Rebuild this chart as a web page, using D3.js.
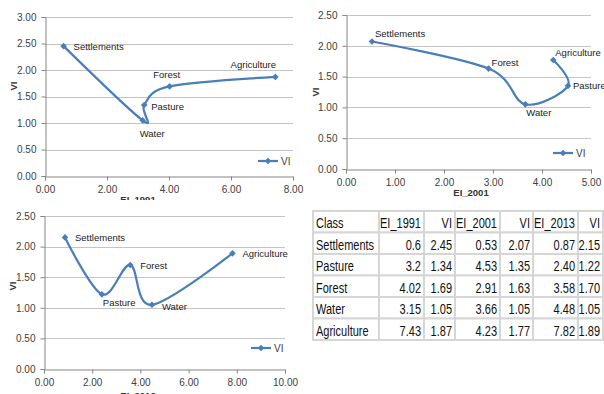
<!DOCTYPE html>
<html><head><meta charset="utf-8">
<script src="https://cdn.jsdelivr.net/npm/d3@7"></script>
<style>html,body{margin:0;padding:0;background:#fff;}svg{display:block;}</style>
</head><body><svg id="c" width="604" height="394"></svg>
<script>
// ---- data ----
const classes = ["Settlements","Pasture","Forest","Water","Agriculture"];
const ei1991 = [0.6, 3.2, 4.02, 3.15, 7.43];
const vi1991 = [2.45, 1.34, 1.69, 1.05, 1.87];
const ei2001 = [0.53, 4.53, 2.91, 3.66, 4.23];
const vi2001 = [2.07, 1.35, 1.63, 1.05, 1.77];
const ei2013 = [0.87, 2.40, 3.58, 4.48, 7.82];
const vi2013 = [2.15, 1.22, 1.70, 1.05, 1.89];
// order in which the points are joined in each chart
const order1991 = ["Settlements","Water","Pasture","Forest","Agriculture"];
const order2001 = ["Settlements","Forest","Water","Pasture","Agriculture"];
const order2013 = ["Settlements","Pasture","Forest","Water","Agriculture"];
const yTicks1991 = [0,0.5,1,1.5,2,2.5,3];
const yTicks2001 = [0,0.5,1,1.5,2,2.5];
const yTicks2013 = [0,0.5,1,1.5,2,2.5];
const xTicks1991 = [0,2,4,6,8];
const xTicks2001 = [0,1,2,3,4,5];
const xTicks2013 = [0,2,4,6,8,10];
const tableHeader = ["Class","EI_1991","VI","EI_2001","VI","EI_2013","VI"];
const tableEI1991 = ["0.6","3.2","4.02","3.15","7.43"];
const tableVI1991 = ["2.45","1.34","1.69","1.05","1.87"];
const tableEI2001 = ["0.53","4.53","2.91","3.66","4.23"];
const tableVI2001 = ["2.07","1.35","1.63","1.05","1.77"];
const tableEI2013 = ["0.87","2.40","3.58","4.48","7.82"];
const tableVI2013 = ["2.15","1.22","1.70","1.05","1.89"];

const svg = d3.select("#c");
const FONT = "'Liberation Sans', Arial, sans-serif";
const BLUE = "#4a7ebb";

function chart(cfg){
  const g = svg.append("g");
  if (cfg.bg) g.append("rect").attr("x",cfg.bg[0]).attr("y",cfg.bg[1]).attr("width",cfg.bg[2]).attr("height",cfg.bg[3]).attr("fill","#fff");
  const x = d3.scaleLinear().domain(cfg.xd).range([cfg.x0,cfg.x1]);
  const y = d3.scaleLinear().domain(cfg.yd).range([cfg.y0,cfg.y1]);
  g.selectAll(".gl").data(cfg.yt.filter(d=>d>0)).enter().append("line")
    .attr("x1",cfg.x0).attr("x2",cfg.x1).attr("y1",d=>Math.round(y(d))+0.5).attr("y2",d=>Math.round(y(d))+0.5)
    .attr("stroke","#c4c4c4").attr("stroke-width",1);
  const ya = g.append("g").attr("transform",`translate(${cfg.x0+0.5},0)`)
    .call(d3.axisLeft(y).tickValues(cfg.yt).tickFormat(d3.format(".2f")).tickSize(4).tickPadding(5));
  const xa = g.append("g").attr("transform",`translate(0,${Math.round(cfg.y0)+0.5})`)
    .call(d3.axisBottom(x).tickValues(cfg.xt).tickFormat(d3.format(".2f")).tickSize(4).tickPadding(5));
  [ya,xa].forEach(a=>{
    a.select(".domain").attr("stroke","#868686");
    a.selectAll(".tick line").attr("stroke","#868686");
    a.selectAll("text").attr("font-family",FONT).attr("font-size",10).attr("fill","#404040");
  });
  g.append("text").attr("transform",`translate(${cfg.ytx},${cfg.yty}) rotate(-90)`).attr("text-anchor","middle")
    .attr("font-family",FONT).attr("font-size",9.5).attr("font-weight","bold").attr("fill","#333").text("VI");
  g.append("text").attr("x",cfg.xtx).attr("y",cfg.xty).attr("text-anchor","middle")
    .attr("font-family",FONT).attr("font-size",9.5).attr("font-weight","bold").attr("fill","#333").text(cfg.xtitle);
  const pts = cfg.order.map(c=>{const i=classes.indexOf(c);return {c, ex:cfg.ei[i], v:cfg.vi[i]};});
  const line = d3.line().x(d=>x(d.ex)).y(d=>y(d.v)).curve(d3.curveCardinal.tension(0));
  g.append("path").attr("d",line(pts)).attr("fill","none").attr("stroke",BLUE).attr("stroke-width",2.2);
  const sym = d3.symbol().type(d3.symbolSquare).size(22);
  g.selectAll(".m").data(pts).enter().append("path").attr("d",sym)
    .attr("transform",d=>`translate(${x(d.ex)},${y(d.v)}) rotate(45)`).attr("fill",BLUE);
  g.selectAll(".lb").data(pts).enter().append("text")
    .attr("x",d=>x(d.ex)+cfg.lab[d.c][0]).attr("y",d=>y(d.v)+cfg.lab[d.c][1])
    .attr("text-anchor",d=>cfg.lab[d.c][2]||"start")
    .attr("font-family",FONT).attr("font-size",9.5).attr("fill","#222").text(d=>d.c);
  g.append("line").attr("x1",cfg.lg[0]).attr("x2",cfg.lg[0]+20).attr("y1",cfg.lg[1]).attr("y2",cfg.lg[1]).attr("stroke",BLUE).attr("stroke-width",2.2);
  g.append("path").attr("d",sym).attr("transform",`translate(${cfg.lg[0]+10},${cfg.lg[1]}) rotate(45)`).attr("fill",BLUE);
  g.append("text").attr("x",cfg.lg[0]+23).attr("y",cfg.lg[1]+3.5).attr("font-family",FONT).attr("font-size",10).attr("fill","#404040").text("VI");
}

chart({xd:[0,8],yd:[0,3],x0:45,x1:293,y0:176,y1:17,xt:xTicks1991,yt:yTicks1991,ei:ei1991,vi:vi1991,order:order1991,
  ytx:17,yty:86,xtx:138,xty:203,xtitle:"EI_1991",lg:[258,161],
  lab:{Settlements:[10,4],Water:[-3,17],Pasture:[7,5],Forest:[-3,-8,"middle"],Agriculture:[-22,-9,"middle"]}});
chart({xd:[0,5],yd:[0,2.5],x0:346,x1:591,y0:169,y1:15,xt:xTicks2001,yt:yTicks2001,ei:ei2001,vi:vi2001,order:order2001,
  ytx:319,yty:92,xtx:471,xty:196,xtitle:"EI_2001",lg:[553,153],
  lab:{Settlements:[3,-4],Forest:[3,-3],Water:[1,12],Agriculture:[2,-4],Pasture:[5,3]}});
chart({bg:[0,200,300,194],xd:[0,10],yd:[0,2.5],x0:44,x1:285,y0:369,y1:216,xt:xTicks2013,yt:yTicks2013,ei:ei2013,vi:vi2013,order:order2013,
  ytx:16,yty:286,xtx:138,xty:399,xtitle:"EI_2013",lg:[251,348],
  lab:{Settlements:[10,4],Pasture:[1,12],Forest:[10,4],Water:[10,5],Agriculture:[10,4]}});

// ---- table ----
const colEdges = [313,379,424,455,500,533,578,603];
const rowEdges = [211,232.5,254,275.5,297,318.5,340];
const tg = svg.append("g");
const rows = [tableHeader].concat(classes.map((c,i)=>[c,tableEI1991[i],tableVI1991[i],tableEI2001[i],tableVI2001[i],tableEI2013[i],tableVI2013[i]]));
rows.forEach((r,ri)=>{
  r.forEach((v,ci)=>{
    tg.append("rect").attr("x",colEdges[ci]).attr("y",rowEdges[ri]).attr("width",colEdges[ci+1]-colEdges[ci]).attr("height",rowEdges[ri+1]-rowEdges[ri])
      .attr("fill","#fff").attr("stroke","#d6d6d6").attr("stroke-width",2);
  });
});
const SX = 0.76;
rows.forEach((r,ri)=>{
  r.forEach((v,ci)=>{
    const tx = ci===0?colEdges[0]+3:colEdges[ci+1]-3;
    tg.append("text").attr("transform",`translate(${tx},${rowEdges[ri]+17}) scale(${SX},1)`)
      .attr("text-anchor",ci===0?"start":"end")
      .attr("font-family",FONT).attr("font-size",14.5).attr("fill","#111").text(v);
  });
});
</script></body></html>
